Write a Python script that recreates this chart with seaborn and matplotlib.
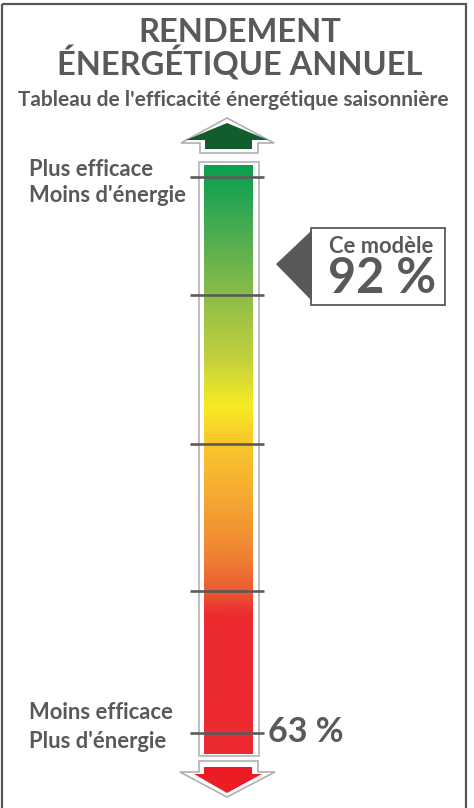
import numpy as np
import matplotlib
matplotlib.use("Agg")
import matplotlib.pyplot as plt
import seaborn as sns
from matplotlib.colors import LinearSegmentedColormap
from matplotlib.patches import Polygon, Rectangle

# ---------------- data ----------------
title_lines = ["RENDEMENT", "ÉNERGÉTIQUE ANNUEL"]
subtitle = "Tableau de l'efficacité énergétique saisonnière"
top_labels = ["Plus efficace", "Moins d'énergie"]
bottom_labels = ["Moins efficace", "Plus d'énergie"]
model_label = "Ce modèle"
model_value = 92
min_value = 63
tick_levels = [63, 71.8, 80.9, 90.1, 97.4]
scale_min, scale_max = 61.7, 98.13

# gradient colour stops (fraction from bottom of bar, colour)
grad_stops = [(0.00, "#ec2a2f"), (0.236, "#ec2b30"), (0.275, "#ea5a30"),
              (0.329, "#ef7f34"), (0.431, "#f5a832"), (0.533, "#f9c92a"),
              (0.593, "#f6eb23"), (0.669, "#c5d13d"), (0.779, "#8cbd48"),
              (0.941, "#2ba553"), (1.00, "#0aa04f")]

W, H = 474, 808
GRAY = "#58595b"

sns.set_theme(style="white")
plt.rcParams["font.family"] = ["Lato", "DejaVu Sans"]
plt.rcParams["font.weight"] = "bold"

fig = plt.figure(figsize=(W / 100, H / 100), dpi=100)
fig.patch.set_facecolor("white")

# background axes in pixel units
bg = fig.add_axes([0, 0, 1, 1])
bg.set_xlim(0, W)
bg.set_ylim(H, 0)
bg.axis("off")

# bar axes, in efficiency % units
bx0, bx1, by0, by1 = 204, 252, 165, 754
ax = fig.add_axes([bx0 / W, (H - by1) / H, (bx1 - bx0) / W, (by1 - by0) / H])
ax.set_xlim(0, 1)
ax.set_ylim(scale_min, scale_max)
ax.axis("off")

cmap = LinearSegmentedColormap.from_list("eff", grad_stops)
grad = np.linspace(0, 1, 600).reshape(-1, 1)
ax.imshow(grad, cmap=cmap, aspect="auto", origin="lower",
          extent=[0, 1, scale_min, scale_max], interpolation="bilinear")

# tick lines
ax.hlines(tick_levels, -0.29, 1.25, colors="#5b5b5b", linewidth=1.9,
          clip_on=False, zorder=5)

# frame
bg.add_patch(Rectangle((2, 4), 464, 820, fill=False, edgecolor="#555555",
                       linewidth=1.6, clip_on=False))
# bar outline
bg.add_patch(Rectangle((199.5, 162), 59.5, 594, facecolor="white",
                       edgecolor="#b9b9bb", linewidth=1.3))

# up arrow
bg.add_patch(Polygon([(200, 153), (200, 143), (181, 143), (227, 118),
                      (274, 143), (258, 143), (258, 153)], closed=True,
                     facecolor="white", edgecolor="#b0b0b2", linewidth=1.2))
bg.add_patch(Polygon([(205, 149), (205, 140), (186, 140), (227, 123),
                      (268, 140), (252, 140), (252, 149)], closed=True,
                     facecolor="#135c2e", edgecolor="none"))
# down arrow
bg.add_patch(Polygon([(199, 761), (199, 772), (180, 772), (227, 797),
                      (275, 772), (258, 772), (258, 761)], closed=True,
                     facecolor="white", edgecolor="#b0b0b2", linewidth=1.2))
bg.add_patch(Polygon([(204, 767), (204, 774), (194, 774), (227, 793),
                      (262, 774), (252, 774), (252, 767)], closed=True,
                     facecolor="#ed1c24", edgecolor="none"))

# titles
bg.text(239.5, 42, title_lines[0], ha="center", va="baseline", fontsize=23.5,
        fontweight="bold", color=GRAY)
bg.text(240, 76, title_lines[1], ha="center", va="baseline", fontsize=23.5,
        fontweight="bold", color=GRAY)
bg.text(233, 106, subtitle, ha="center", va="baseline", fontsize=15,
        fontweight="bold", color=GRAY)

# side labels
bg.text(29, 176, top_labels[0], ha="left", va="baseline", fontsize=15.8,
        fontweight="bold", color=GRAY)
bg.text(29, 202, top_labels[1], ha="left", va="baseline", fontsize=15.8,
        fontweight="bold", color=GRAY)
bg.text(29, 719, bottom_labels[0], ha="left", va="baseline", fontsize=15.8,
        fontweight="bold", color=GRAY)
bg.text(29, 748, bottom_labels[1], ha="left", va="baseline", fontsize=15.8,
        fontweight="bold", color=GRAY)


def bar_to_px(val):
    disp = ax.transData.transform((0, val))
    return bg.transData.inverted().transform(disp)[1]


fig.canvas.draw()
y_min = bar_to_px(min_value)
bg.text(268, y_min + 9, f"{min_value} %", ha="left", va="baseline",
        fontsize=24.5, fontweight="bold", color=GRAY)

# model pointer
y_m = bar_to_px(model_value)
bg.add_patch(Rectangle((311, y_m - 36), 134, 77, facecolor="white",
                       edgecolor=GRAY, linewidth=1.3))
bg.add_patch(Polygon([(276, y_m), (312, y_m - 34), (312, y_m + 37)],
                     closed=True, facecolor=GRAY, edgecolor="none"))
bg.text(381.5, y_m - 11, model_label, ha="center", va="baseline", fontsize=15.8,
        fontweight="bold", color=GRAY)
bg.text(382, y_m + 29, f"{model_value} %", ha="center", va="baseline",
        fontsize=35, fontweight="bold", color=GRAY)

fig.savefig("out.png", dpi=100, facecolor="white")
